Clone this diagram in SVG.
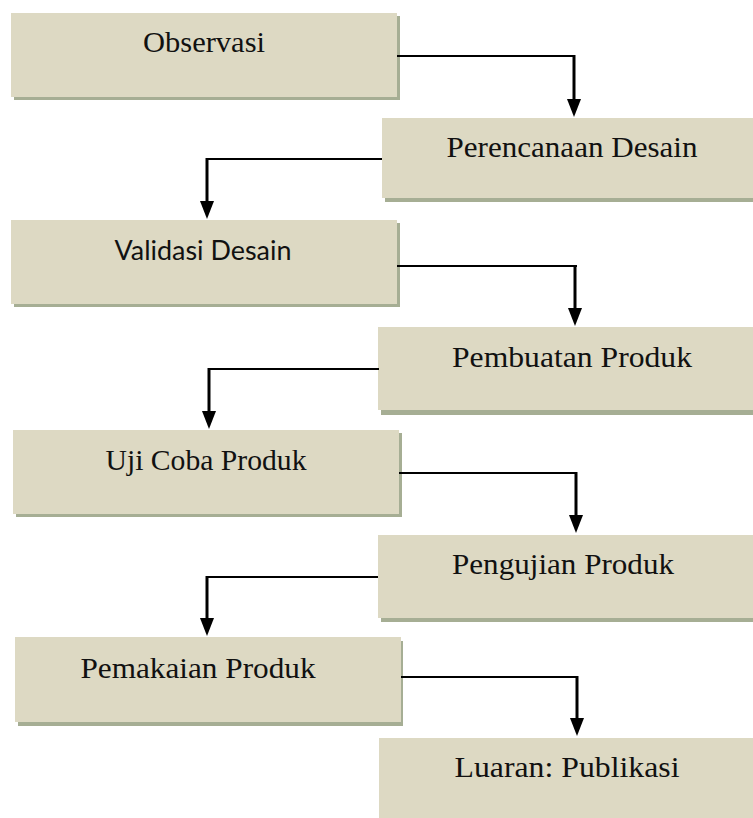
<svg xmlns="http://www.w3.org/2000/svg" width="753" height="818" viewBox="0 0 753 818">
  <style>
    .box { fill: #DDD9C3; }
    .shadow { fill: #A6AE94; }
    .t { font-family: "Liberation Serif", "DejaVu Serif", serif; font-size: 30px; fill: #111; text-anchor: middle; }
    .ts { font-family: Lato, "Open Sans", "Liberation Sans", sans-serif; font-size: 27px; fill: #111; text-anchor: middle; }
    .h { fill: none; stroke: #000; stroke-width: 2; }
    .v { fill: none; stroke: #000; stroke-width: 3; marker-end: url(#arrow); }
  </style>
  <defs>
    <marker id="arrow" viewBox="0 0 18 14" refX="8" refY="7" markerWidth="18" markerHeight="14" markerUnits="userSpaceOnUse" orient="auto">
      <path d="M0,0 L18,7 L0,14 Z" fill="#000"/>
    </marker>
  </defs>
  <rect width="753" height="818" fill="#fff"/>

  <g id="node-observasi">
    <rect class="shadow" x="14" y="16" width="386" height="84"/>
    <rect class="box" x="11" y="13" width="386" height="84"/>
    <text class="t" x="204" y="52" textLength="122" lengthAdjust="spacingAndGlyphs">Observasi</text>
  </g>
  <g id="node-perencanaan">
    <rect class="shadow" x="385" y="121" width="371" height="81"/>
    <rect class="box" x="382" y="118" width="371" height="80"/>
    <text class="t" x="572" y="157" textLength="251" lengthAdjust="spacingAndGlyphs">Perencanaan Desain</text>
  </g>
  <g id="node-validasi">
    <rect class="shadow" x="14" y="223" width="386" height="84"/>
    <rect class="box" x="11" y="220" width="386" height="84"/>
    <text class="ts" x="203" y="260" textLength="177" lengthAdjust="spacingAndGlyphs">Validasi Desain</text>
  </g>
  <g id="node-pembuatan">
    <rect class="shadow" x="381" y="331" width="375" height="84"/>
    <rect class="box" x="378" y="327" width="375" height="83"/>
    <text class="t" x="572" y="367" textLength="240" lengthAdjust="spacingAndGlyphs">Pembuatan Produk</text>
  </g>
  <g id="node-ujicoba">
    <rect class="shadow" x="16" y="433" width="386" height="84"/>
    <rect class="box" x="13" y="430" width="386" height="84"/>
    <text class="t" x="206" y="470" textLength="201" lengthAdjust="spacingAndGlyphs">Uji Coba Produk</text>
  </g>
  <g id="node-pengujian">
    <rect class="shadow" x="381" y="539" width="375" height="83"/>
    <rect class="box" x="378" y="535" width="375" height="83"/>
    <text class="t" x="563" y="574" textLength="222" lengthAdjust="spacingAndGlyphs">Pengujian Produk</text>
  </g>
  <g id="node-pemakaian">
    <rect class="shadow" x="18" y="641" width="385" height="85"/>
    <rect class="box" x="15" y="637" width="386" height="85"/>
    <text class="t" x="198" y="678" textLength="235" lengthAdjust="spacingAndGlyphs">Pemakaian Produk</text>
  </g>
  <g id="node-luaran">
    <rect class="box" x="379" y="738" width="374" height="82"/>
    <text class="t" x="567" y="777" textLength="225" lengthAdjust="spacingAndGlyphs">Luaran: Publikasi</text>
  </g>

  <g id="connectors">
    <path class="h" d="M397,56 H575"/>
    <path class="v" d="M574,55 V107"/>
    <path class="h" d="M382,159 H206"/>
    <path class="v" d="M207,158 V209"/>
    <path class="h" d="M397,266 H577"/>
    <path class="v" d="M575,265 V316"/>
    <path class="h" d="M379,369 H208"/>
    <path class="v" d="M209,368 V419"/>
    <path class="h" d="M399,473 H577"/>
    <path class="v" d="M576,472 V523"/>
    <path class="h" d="M378,577 H206"/>
    <path class="v" d="M207,576 V626"/>
    <path class="h" d="M401,677 H578"/>
    <path class="v" d="M577,676 V726"/>
  </g>
</svg>
